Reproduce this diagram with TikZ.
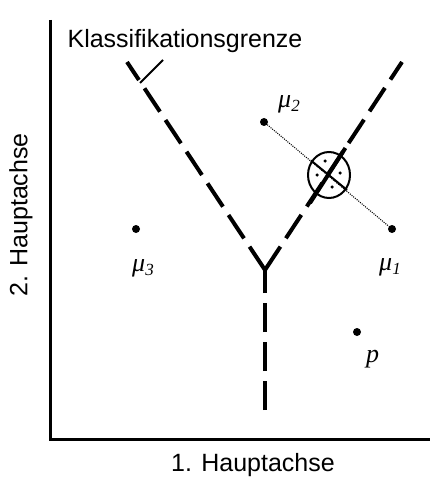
\documentclass[tikz,border=0pt]{standalone}
\usepackage{fontspec}
\usetikzlibrary{shapes.geometric}
\setmainfont{Liberation Sans}
\newfontfamily\serifit{Liberation Serif}
\begin{document}
\begin{tikzpicture}[x=1pt,y=-1pt,
  axisline/.style={line width=3pt},
  bound/.style={line width=4pt,dash pattern=on 28pt off 10pt},
  pt/.style={circle,fill=black,inner sep=0pt,minimum size=8pt},
  axlabel/.style={font=\fontsize{25}{25}\selectfont,inner sep=0pt},
  sym/.style={font=\fontsize{26}{26}\selectfont\serifit\itshape,inner sep=0pt}]
\useasboundingbox (0,0) rectangle (429,481);
% axes
\coordinate (top) at (50,20);
\coordinate (origin) at (50,439.5);
\coordinate (right) at (438,439.5);
\draw[axisline] (top) -- (origin) -- (right);
% labels
\node[axlabel,rotate=90] (ylab) at (21,215) {2. Hauptachse};
\node[axlabel] (xlab) at (253,465) {1. Hauptachse};
\node[axlabel] (klab) at (185,41) {Klassifikationsgrenze};
% boundary
\coordinate (v) at (265,270);
\coordinate (lend) at (127,62);
\coordinate (rend) at (402,62);
\coordinate (bend) at (265,410);
\draw[bound] (v) -- (lend);
\draw[bound] (v) -- (rend);
\draw[line width=4pt,dash pattern=on 29pt off 10pt] (bend) -- (v);
% tick to label
\coordinate (t1) at (140,83);
\coordinate (t2) at (163,60);
\draw[line width=2pt] (t1) -- (t2);
% points
\node[pt] (m2) at (264,122) {};
\node[pt] (m1) at (392,229) {};
\node[pt] (m3) at (136,229) {};
\node[pt] (p) at (357,332) {};
\draw[line width=1.1pt,dash pattern=on 1pt off 1.2pt] (m2) -- (m1);
% labels of points
\node[sym,anchor=base west] (l2) at (278,108) {μ\raisebox{-4pt}{\fontsize{17}{17}\selectfont 2}};
\node[sym,anchor=base west] (l1) at (379,270) {μ\raisebox{-4pt}{\fontsize{17}{17}\selectfont 1}};
\node[sym,anchor=base west] (l3) at (132,271) {μ\raisebox{-4pt}{\fontsize{17}{17}\selectfont 3}};
\node[sym,anchor=base west] (lp) at (366,362) {p};
% circle with cross
\node[ellipse,draw,line width=2pt,minimum width=42pt,minimum height=46pt,inner sep=0pt] (c) at (329,175) {};
\coordinate (s1) at (310,203);
\coordinate (s2) at (345.4,148);
\draw[line width=4pt] (s1) -- (s2);
\coordinate (d1) at (311,160.5);
\coordinate (d2) at (347,190);
\draw[line width=2pt] (d1) -- (d2);
\foreach \q/\x/\y in {a/325/161,b/340/173,c2/332/187,d/317/175}
  \node[circle,fill=black,inner sep=0pt,minimum size=3.5pt] (dot\q) at (\x,\y) {};
\end{tikzpicture}
\end{document}
